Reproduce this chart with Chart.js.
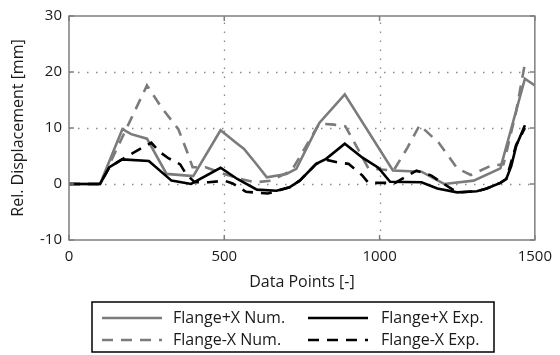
<!DOCTYPE html>
<html>
<head>
<meta charset="utf-8">
<title>Rel. Displacement</title>
<script src="https://cdn.jsdelivr.net/npm/chart.js@4.4.0/dist/chart.umd.min.js"></script>
<style>
  html, body { margin: 0; padding: 0; background: #fff; }
</style>
</head>
<body>
<canvas id="chart" width="560" height="355"></canvas>
<script>
// === Data ===
const xTicks = [0, 500, 1000, 1500];
const yTicks = [-10, 0, 10, 20, 30];

const seriesNames = ['Flange+X Num.', 'Flange+X Exp.', 'Flange-X Num.', 'Flange-X Exp.'];

// Flange+X Num. (grey, solid)
const numPlusX_x = [0, 100, 172, 200, 251, 314, 400, 488, 542, 563, 600, 637, 700, 732, 806, 888, 1043, 1135, 1208, 1303, 1389, 1468, 1500];
const numPlusX_y = [0, 0, 9.8, 8.9, 8.1, 1.8, 1.4, 9.6, 7.2, 6.3, 3.8, 1.2, 1.8, 2.7, 10.9, 16.0, 2.4, 2.2, 0.0, 0.6, 2.8, 18.8, 17.6];

// Flange+X Exp. (black, solid)
const expPlusX_x = [0, 100, 130, 171, 257, 330, 393, 488, 542, 605, 668, 710, 743, 796, 828, 888, 945, 996, 1034, 1135, 1186, 1250, 1313, 1345, 1389, 1408, 1424, 1440, 1468];
const expPlusX_y = [0, 0, 3.0, 4.4, 4.1, 0.6, 0.0, 2.9, 0.9, -1.0, -1.2, -0.6, 0.6, 3.6, 4.5, 7.2, 4.7, 2.9, 0.4, 0.3, -0.8, -1.5, -1.3, -0.8, 0.2, 0.9, 3.2, 6.8, 10.5];

// Flange-X Num. (grey, dashed)
const numMinusX_x = [0, 100, 251, 300, 352, 380, 398, 440, 500, 560, 600, 650, 717, 806, 853, 890, 917, 964, 1045, 1090, 1129, 1190, 1250, 1294, 1360, 1399, 1410, 1440, 1468];
const numMinusX_y = [0, 0, 17.6, 13.5, 9.8, 5.8, 3.0, 3.0, 1.8, 0.8, 0.3, 0.6, 2.4, 10.8, 10.6, 10.3, 7.6, 2.8, 2.4, 6.5, 10.5, 7.4, 2.8, 1.6, 3.3, 3.5, 6.0, 13.0, 21.5];

// Flange-X Exp. (black, dashed)
const expMinusX_x = [0, 100, 130, 171, 265, 290, 320, 358, 377, 405, 450, 500, 527, 570, 640, 710, 743, 796, 830, 870, 900, 945, 964, 1050, 1119, 1167, 1199, 1250, 1313, 1345, 1389, 1408, 1440, 1468];
const expMinusX_y = [0, 0, 3.0, 4.4, 7.4, 5.8, 4.6, 3.5, 1.8, 0.3, 0.3, 0.6, 0.1, -1.4, -1.7, -0.6, 0.6, 3.6, 4.3, 3.8, 3.6, 1.5, 0.2, 0.2, 2.4, 1.5, 0.3, -1.5, -1.3, -0.8, 0.2, 0.9, 7.0, 10.0];

// === Styles ===
const GREY = '#7b7b7b';
const BLACK = '#000000';
const DASH = [11, 8];
const FONT = "'Open Sans', 'DejaVu Sans', sans-serif";

function toPoints(xs, ys) {
    return xs.map((x, i) => ({ x: x, y: ys[i] }));
}

function lineSet(label, xs, ys, color, dashed, order) {
    return {
        label: label,
        data: toPoints(xs, ys),
        borderColor: color,
        backgroundColor: color,
        borderWidth: 2.6,
        borderDash: dashed ? DASH : [],
        pointRadius: 0,
        tension: 0,
        fill: false,
        order: order
    };
}

// === Dotted grid (inner ticks only), under the lines ===
const dotGridPlugin = {
    id: 'dotGrid',
    beforeDatasetsDraw(chart) {
        const { ctx, chartArea: a, scales } = chart;
        ctx.save();
        ctx.strokeStyle = '#8a8a8a';
        ctx.lineWidth = 1.3;
        ctx.setLineDash([1.5, 7.5]);
        ctx.beginPath();
        xTicks.slice(1, -1).forEach(v => {
            const px = Math.round(scales.x.getPixelForValue(v)) + 0.5;
            ctx.moveTo(px, a.bottom); ctx.lineTo(px, a.top);
        });
        yTicks.slice(1, -1).forEach(v => {
            const py = Math.round(scales.y.getPixelForValue(v)) + 0.5;
            ctx.moveTo(a.left, py); ctx.lineTo(a.right, py);
        });
        ctx.stroke();
        ctx.restore();
    }
};

// === Frame + inward tick marks (MATLAB-like box) ===
const framePlugin = {
    id: 'frame',
    afterDatasetsDraw(chart) {
        const { ctx, chartArea: a, scales } = chart;
        const len = 5;
        ctx.save();
        ctx.strokeStyle = '#7f7f7f';
        ctx.lineWidth = 1.5;
        ctx.setLineDash([]);
        ctx.beginPath();
        xTicks.forEach(v => {
            const px = scales.x.getPixelForValue(v);
            ctx.moveTo(px, a.bottom); ctx.lineTo(px, a.bottom - len);
            ctx.moveTo(px, a.top); ctx.lineTo(px, a.top + len);
        });
        yTicks.forEach(v => {
            const py = scales.y.getPixelForValue(v);
            ctx.moveTo(a.left, py); ctx.lineTo(a.left + len, py);
            ctx.moveTo(a.right, py); ctx.lineTo(a.right - len, py);
        });
        ctx.stroke();
        ctx.strokeRect(a.left, a.top, a.right - a.left, a.bottom - a.top);
        ctx.restore();
    }
};

// === Legend box (2 x 2, below the axis title) ===
const legendPlugin = {
    id: 'boxLegend',
    afterDraw(chart) {
        const { ctx } = chart;
        const box = { left: 92, top: 302, width: 402, height: 50 };
        const cols = [{ line: 102, text: 173 }, { line: 308, text: 381 }];
        const rows = [318, 340];
        const lineLen = 60;
        ctx.save();
        ctx.strokeStyle = '#000';
        ctx.lineWidth = 1.5;
        ctx.setLineDash([]);
        ctx.strokeRect(box.left, box.top, box.width, box.height);
        ctx.font = '16px ' + FONT;
        ctx.textBaseline = 'middle';
        ctx.textAlign = 'left';
        chart.data.datasets.forEach((ds, i) => {
            const c = cols[i % 2];
            const y = rows[Math.floor(i / 2)];
            ctx.strokeStyle = ds.borderColor;
            ctx.lineWidth = ds.borderWidth;
            ctx.setLineDash(ds.borderDash);
            ctx.beginPath();
            ctx.moveTo(c.line, y);
            ctx.lineTo(c.line + lineLen, y);
            ctx.stroke();
            ctx.setLineDash([]);
            ctx.fillStyle = '#1a1a1a';
            ctx.fillText(ds.label, c.text, y);
        });
        ctx.restore();
    }
};

new Chart(document.getElementById('chart'), {
    type: 'line',
    data: {
        datasets: [
            lineSet(seriesNames[0], numPlusX_x, numPlusX_y, GREY, false, 3),
            lineSet(seriesNames[1], expPlusX_x, expPlusX_y, BLACK, false, 1),
            lineSet(seriesNames[2], numMinusX_x, numMinusX_y, GREY, true, 4),
            lineSet(seriesNames[3], expMinusX_x, expMinusX_y, BLACK, true, 2)
        ]
    },
    options: {
        responsive: false,
        animation: false,
        layout: { padding: { top: 11, right: 18, bottom: 57, left: 0 } },
        plugins: {
            legend: { display: false },
            tooltip: { enabled: false }
        },
        scales: {
            x: {
                type: 'linear',
                min: 0,
                max: 1500,
                afterBuildTicks: s => { s.ticks = xTicks.map(v => ({ value: v })); },
                afterFit: s => { s.height = 58; },
                ticks: {
                    color: '#1a1a1a', font: { family: FONT, size: 15 }, padding: 8, maxRotation: 0,
                    callback: v => String(v)
                },
                grid: { display: false, drawTicks: false },
                border: { display: false },
                title: {
                    display: true,
                    text: 'Data Points [-]',
                    color: '#1a1a1a',
                    font: { family: FONT, size: 16 },
                    padding: { top: 0, bottom: 6 }
                }
            },
            y: {
                type: 'linear',
                min: -10,
                max: 30,
                afterBuildTicks: s => { s.ticks = yTicks.map(v => ({ value: v })); },
                afterFit: s => { s.width = 69; },
                ticks: {
                    color: '#1a1a1a', font: { family: FONT, size: 15 }, padding: 7,
                    callback: v => String(v)
                },
                grid: { display: false, drawTicks: false },
                border: { display: false },
                title: {
                    display: true,
                    text: 'Rel. Displacement [mm]',
                    color: '#1a1a1a',
                    font: { family: FONT, size: 16 },
                    padding: { top: 9, bottom: 0 }
                }
            }
        }
    },
    plugins: [dotGridPlugin, framePlugin, legendPlugin]
});
</script>
</body>
</html>
